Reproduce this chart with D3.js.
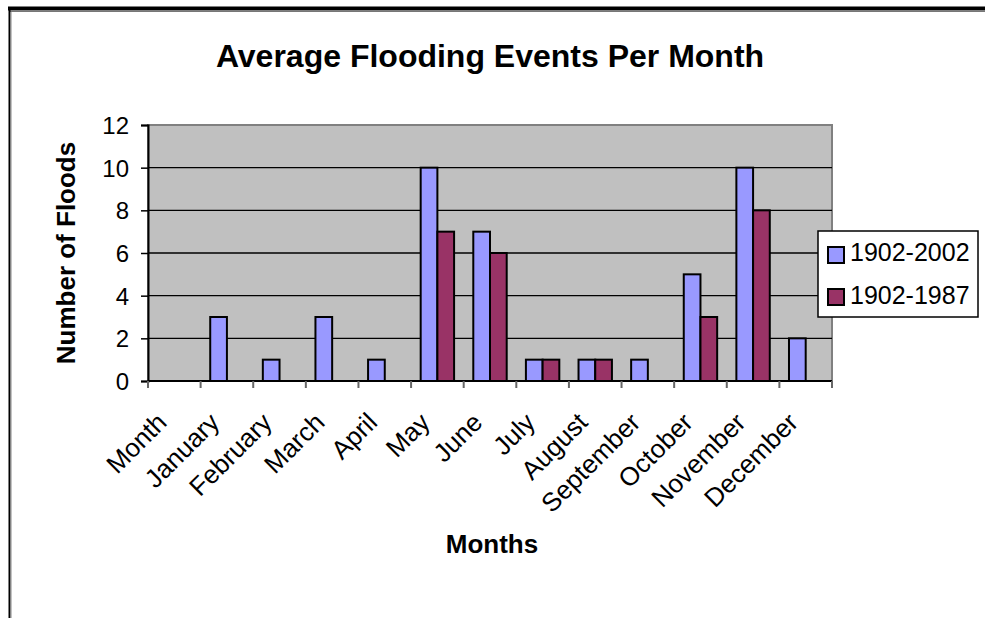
<!DOCTYPE html>
<html><head><meta charset="utf-8">
<script src="https://cdn.jsdelivr.net/npm/d3@7/dist/d3.min.js"></script>
<style>body{margin:0;background:#fff;} svg{display:block;font-family:"Liberation Sans",Arial,sans-serif;}</style>
</head><body>
<script>
const categories = ["Month","January","February","March","April","May","June","July","August","September","October","November","December"];
const seriesNames = ["1902-2002","1902-1987"];
const values2002 = [0,3,1,3,1,10,7,1,1,1,5,10,2];
const values1987 = [0,0,0,0,0,7,6,1,1,0,3,8,0];
const yTicks = [0,2,4,6,8,10,12];
const colors = ["#9999FF","#993366"];

const W = 985, H = 618;
const FONT = "Liberation Sans, Arial, sans-serif";
const svg = d3.select("body").append("svg").attr("width", W).attr("height", H);

// outer frame (cut off at right & bottom)
svg.append("line").attr("x1",8).attr("x2",W).attr("y1",8.5).attr("y2",8.5).attr("stroke","#000").attr("stroke-width",4);
svg.append("line").attr("x1",10).attr("x2",W).attr("y1",11.5).attr("y2",11.5).attr("stroke","#777").attr("stroke-width",1);
svg.append("line").attr("x1",9.5).attr("x2",9.5).attr("y1",7).attr("y2",H).attr("stroke","#000").attr("stroke-width",2);
svg.append("line").attr("x1",11).attr("x2",11).attr("y1",12).attr("y2",H).attr("stroke","#888").attr("stroke-width",1);

const m = {left:148, top:125, right:832, bottom:381};
const x = d3.scaleBand().domain(categories).range([m.left, m.right]).paddingInner(0).paddingOuter(0);
const xs = d3.scaleBand().domain(seriesNames).range([0, x.bandwidth()]).paddingInner(0).paddingOuter(0.575);
const y = d3.scaleLinear().domain([0,12]).range([m.bottom, m.top]);

// plot background
svg.append("rect").attr("x",m.left).attr("y",m.top).attr("width",m.right-m.left).attr("height",m.bottom-m.top)
  .attr("fill","#C0C0C0").attr("stroke","#808080").attr("stroke-width",2);

// gridlines
svg.append("g").selectAll("line").data(yTicks.filter(d=>d>0 && d<12)).join("line")
  .attr("x1",m.left).attr("x2",m.right).attr("y1",d=>y(d)).attr("y2",d=>y(d))
  .attr("stroke","#000").attr("stroke-width",1.3);

// bars
const data = categories.map((c,i)=>({c, vals:[values2002[i], values1987[i]]}));
const g = svg.append("g");
data.forEach(d=>{
  d.vals.forEach((v,j)=>{
    if (v<=0) return;
    g.append("rect").attr("x", x(d.c)+xs(seriesNames[j])).attr("width", xs.bandwidth())
      .attr("y", y(v)).attr("height", y(0)-y(v))
      .attr("fill", colors[j]).attr("stroke","#000").attr("stroke-width",2);
  });
});

// y axis
const yAxis = svg.append("g").attr("transform",`translate(${m.left},0)`)
  .call(d3.axisLeft(y).tickValues(yTicks).tickSize(7).tickPadding(12).tickFormat(d3.format("d")));
yAxis.select(".domain").attr("stroke","#000").attr("stroke-width",2);
yAxis.selectAll(".tick line").attr("stroke","#000").attr("stroke-width",1.5);
yAxis.selectAll("text").attr("font-size",24).attr("fill","#000").attr("font-family",FONT).attr("dy","0.36em");

// x axis
const xTickVals = d3.range(categories.length+1).map(i=>m.left + i*x.step());
const xa = svg.append("g");
xa.append("line").attr("x1",m.left).attr("x2",m.right).attr("y1",m.bottom).attr("y2",m.bottom).attr("stroke","#000").attr("stroke-width",2);
xa.selectAll("line.t").data(xTickVals).join("line").attr("class","t")
  .attr("x1",d=>d).attr("x2",d=>d).attr("y1",m.bottom).attr("y2",m.bottom+7).attr("stroke","#666").attr("stroke-width",2);
xa.selectAll("text").data(categories).join("text")
  .attr("transform",d=>`translate(${x(d)+x.bandwidth()/2-6},${m.bottom+43}) rotate(-45)`)
  .attr("text-anchor","end").attr("font-size",26).attr("fill","#000").text(d=>d);

// titles
svg.append("text").attr("x",490).attr("y",67).attr("text-anchor","middle").attr("font-size",32).attr("font-weight","bold").text("Average Flooding Events Per Month");
svg.append("text").attr("x",492).attr("y",553).attr("text-anchor","middle").attr("font-size",26).attr("font-weight","bold").text("Months");
svg.append("text").attr("transform","translate(75,253) rotate(-90)").attr("text-anchor","middle").attr("font-size",26).attr("font-weight","bold").text("Number of Floods");

// legend
const lg = svg.append("g");
lg.append("rect").attr("x",818).attr("y",231).attr("width",160).attr("height",86).attr("fill","#fff").attr("stroke","#000").attr("stroke-width",1.5);
seriesNames.forEach((s,i)=>{
  lg.append("rect").attr("x",828).attr("y",247+i*42).attr("width",16).attr("height",16).attr("fill",colors[i]).attr("stroke","#000").attr("stroke-width",2);
  lg.append("text").attr("x",850).attr("y",261+i*42.5).attr("font-size",25).text(s);
});
</script>
</body></html>
